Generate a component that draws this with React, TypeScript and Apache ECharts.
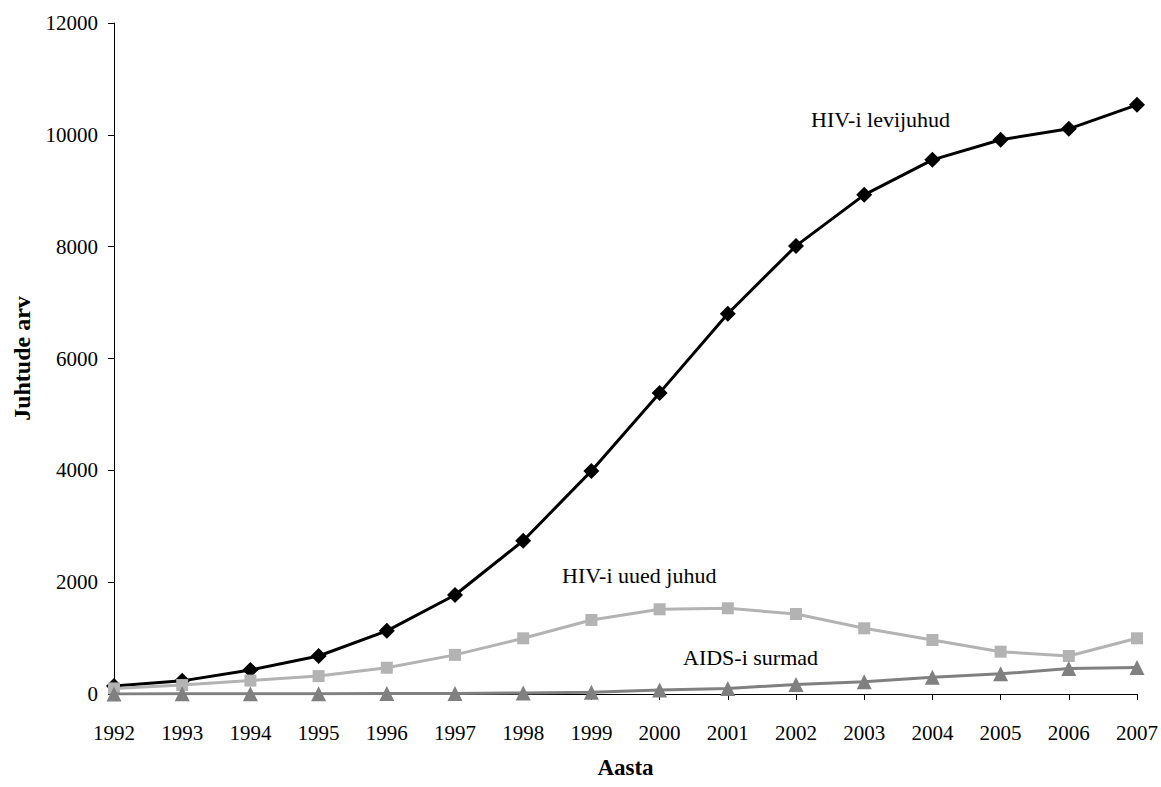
import React, { useEffect, useRef } from "react";
import * as echarts from "echarts";

// Years on the category axis
const years = [
  "1992", "1993", "1994", "1995", "1996", "1997", "1998", "1999",
  "2000", "2001", "2002", "2003", "2004", "2005", "2006", "2007",
];

// HIV-i levijuhud (prevalent cases)
const prevalentCases = [
  145, 235, 430, 680, 1130, 1770, 2740, 3990,
  5385, 6800, 8014, 8927, 9553, 9911, 10107, 10537,
];

// HIV-i uued juhud (new cases)
const newCases = [
  100, 160, 240, 320, 470, 700, 996, 1324,
  1515, 1533, 1431, 1175, 966, 757, 680, 996,
];

// AIDS-i surmad (deaths)
const aidsDeaths = [
  2, 3, 5, 6, 8, 10, 20, 30,
  70, 100, 170, 220, 300, 360, 455, 475,
];

const yTicks = { min: 0, max: 12000, interval: 2000 };

const FONT = "'Liberation Serif', 'Times New Roman', serif";

export default function App() {
  const ref = useRef<HTMLDivElement>(null);

  useEffect(() => {
    if (!ref.current) return;
    const chart = echarts.init(ref.current, undefined, { renderer: "svg" });

    chart.setOption({
      animation: false,
      backgroundColor: "#ffffff",
      grid: {
        left: 114,
        right: 24,
        top: 23,
        bottom: 93,
        containLabel: false,
        outerBoundsMode: "none",
      },
      xAxis: {
        type: "category",
        data: years,
        boundaryGap: false,
        name: "Aasta",
        nameLocation: "middle",
        nameGap: 62,
        nameTextStyle: { fontFamily: FONT, fontWeight: "bold", fontSize: 23, color: "#000" },
        axisLine: { lineStyle: { color: "#000", width: 1 } },
        axisTick: { show: true, alignWithLabel: true, length: 6, lineStyle: { color: "#000" } },
        axisLabel: { fontFamily: FONT, fontSize: 21, color: "#000", margin: 28, interval: 0 },
        splitLine: { show: false },
      },
      yAxis: {
        type: "value",
        min: yTicks.min,
        max: yTicks.max,
        interval: yTicks.interval,
        name: "Juhtude arv",
        nameLocation: "middle",
        nameRotate: 90,
        nameGap: 80,
        nameTextStyle: { fontFamily: FONT, fontWeight: "bold", fontSize: 24, color: "#000" },
        axisLine: { show: true, lineStyle: { color: "#000", width: 1 } },
        axisTick: { show: true, length: 6, lineStyle: { color: "#000" } },
        axisLabel: {
          fontFamily: FONT,
          fontSize: 21,
          color: "#000",
          margin: 16,
          formatter: (v: number) => String(v),
        },
        splitLine: { show: false },
      },
      series: [
        {
          name: "HIV-i levijuhud",
          type: "line",
          data: prevalentCases,
          symbol: "diamond",
          symbolSize: 16,
          itemStyle: { color: "#000000" },
          lineStyle: { color: "#000000", width: 3 },
          z: 2,
        },
        {
          name: "HIV-i uued juhud",
          type: "line",
          data: newCases,
          symbol: "rect",
          symbolSize: 12,
          itemStyle: { color: "#b3b3b3" },
          lineStyle: { color: "#b3b3b3", width: 3 },
          z: 3,
        },
        {
          name: "AIDS-i surmad",
          type: "line",
          data: aidsDeaths,
          symbol: "triangle",
          symbolSize: 15,
          itemStyle: { color: "#808080" },
          lineStyle: { color: "#808080", width: 3 },
          z: 4,
        },
      ],
      graphic: [
        {
          type: "text",
          left: 811,
          top: 108,
          style: { text: "HIV-i levijuhud", fontFamily: FONT, fontSize: 22, fill: "#000" },
        },
        {
          type: "text",
          left: 562,
          top: 564,
          style: { text: "HIV-i uued juhud", fontFamily: FONT, fontSize: 22, fill: "#000" },
        },
        {
          type: "text",
          left: 683,
          top: 646,
          style: { text: "AIDS-i surmad", fontFamily: FONT, fontSize: 22, fill: "#000" },
        },
      ],
    });

    return () => chart.dispose();
  }, []);

  return (
    <div
      ref={ref}
      style={{ position: "absolute", left: 0, top: 0, width: 1161, height: 787, background: "#fff" }}
    />
  );
}
